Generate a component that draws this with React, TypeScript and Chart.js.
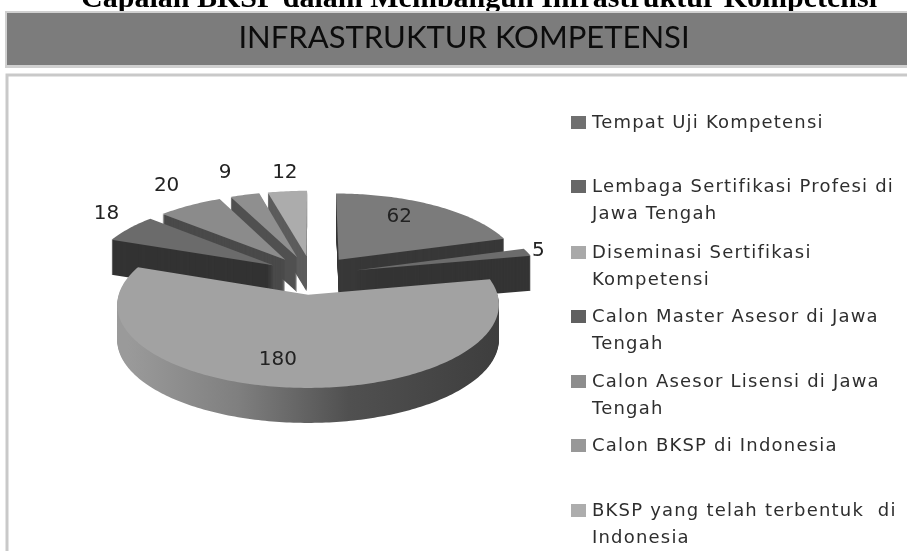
import React, { useEffect, useRef } from "react";
import { Chart, registerables } from "chart.js";

Chart.register(...registerables);

const pageTitle = "Capaian BKSP dalam Membangun Infrastruktur Kompetensi";
const bannerTitle = "INFRASTRUKTUR KOMPETENSI";
const legendLines = [
  ["Tempat Uji Kompetensi"],
  ["Lembaga Sertifikasi Profesi di", "Jawa Tengah"],
  ["Diseminasi Sertifikasi", "Kompetensi"],
  ["Calon Master Asesor di Jawa", "Tengah"],
  ["Calon Asesor Lisensi di Jawa", "Tengah"],
  ["Calon BKSP di Indonesia"],
  ["BKSP yang telah terbentuk  di", "Indonesia"],
];
const categories = legendLines.map((l) => l.join(" "));
const values = [62, 5, 180, 18, 20, 9, 12];
const topColors = ["#7b7b7b", "#6c6c6c", "#a2a2a2", "#6b6b6b", "#8b8b8b", "#8f8f8f", "#acacac"];
const wallColors = ["#383838", "#343434", "#555555", "#333333", "#4a4a4a", "#505050", "#5c5c5c"];
const swatchColors = ["#707070", "#676767", "#a9a9a9", "#606060", "#8d8d8d", "#989898", "#adadad"];
const legendRowY = [123, 187, 253, 317, 382, 446, 511];
const labelAlong = [0.44, 0.5, 0.523, 0.69, 0.587, 0.48, 0.55];
const labelDistance = [180, 242, 182, 277, 297, 306, 290];

const EXPLODE = 46;
const TILT = 0.42;
const PERSPECTIVE = 0.12;
const DEPTH = 35;
const RADIUS = 184;

function project(cx: number, cy: number, angle: number, rho: number, ox: number, oy: number) {
  const X = ox + rho * Math.cos(angle);
  const Y = oy + rho * Math.sin(angle);
  const f = 1 / (1 - (PERSPECTIVE * Y) / 190);
  return { x: cx + X * f, y: cy + TILT * Y * f };
}

function tracePath(ctx: CanvasRenderingContext2D, arc: any, dy: number) {
  const { x, y, startAngle, endAngle, outerRadius } = arc;
  const mid = (startAngle + endAngle) / 2;
  const ox = EXPLODE * Math.cos(mid);
  const oy = EXPLODE * Math.sin(mid);
  ctx.beginPath();
  const a = project(x, y, 0, 0, ox, oy);
  ctx.moveTo(a.x, a.y + dy);
  const steps = Math.max(4, Math.ceil((endAngle - startAngle) * 60));
  for (let i = 0; i <= steps; i++) {
    const p = project(x, y, startAngle + ((endAngle - startAngle) * i) / steps, outerRadius, ox, oy);
    ctx.lineTo(p.x, p.y + dy);
  }
  ctx.closePath();
}

const pie3d = {
  id: "pie3d",
  beforeDraw(chart: any) {
    const ctx: CanvasRenderingContext2D = chart.ctx;
    ctx.save();
    ctx.fillStyle = "#ffffff";
    ctx.fillRect(0, 0, chart.width, chart.height);
    ctx.fillStyle = "#000000";
    ctx.font = "bold 30px 'Liberation Serif'";
    ctx.textAlign = "center";
    ctx.textBaseline = "alphabetic";
    ctx.fillText(pageTitle, 479, 7);
    ctx.fillStyle = "#d0d0d0";
    ctx.fillRect(5, 11, 902, 57);
    ctx.fillStyle = "#7c7c7c";
    ctx.fillRect(7, 13, 900, 52);
    ctx.fillStyle = "#0c0c0c";
    ctx.font = "31px Lato";
    ctx.textBaseline = "middle";
    ctx.fillText(bannerTitle, 464, 38);
    ctx.strokeStyle = "#c9c9c9";
    ctx.lineWidth = 3;
    ctx.strokeRect(7, 75, 910, 500);
    ctx.textAlign = "left";
    ctx.font = "18px 'DejaVu Sans'";
    (ctx as any).letterSpacing = "1.2px";
    legendLines.forEach((lines, i) => {
      ctx.fillStyle = swatchColors[i];
      ctx.fillRect(571, legendRowY[i] - 7, 15, 13);
      ctx.fillStyle = "#2e2e2e";
      lines.forEach((line, j) => ctx.fillText(line, 592, legendRowY[i] + j * 27));
    });
    (ctx as any).letterSpacing = "0px";
    ctx.restore();
  },
  beforeDatasetDraw(chart: any) {
    const ctx: CanvasRenderingContext2D = chart.ctx;
    const arcs = chart.getDatasetMeta(0).data as any[];
    const order = arcs
      .map((_, i) => i)
      .sort((a, b) => {
        const ma = (arcs[a].startAngle + arcs[a].endAngle) / 2;
        const mb = (arcs[b].startAngle + arcs[b].endAngle) / 2;
        return Math.sin(ma) - Math.sin(mb);
      });
    ctx.save();
    order.forEach((i) => {
      const arc = arcs[i];
      let wall: any = wallColors[i];
      if (values[i] === Math.max(...values)) {
        const g = ctx.createLinearGradient(arc.x - RADIUS, 0, arc.x + RADIUS, 0);
        g.addColorStop(0, "#9a9a9a");
        g.addColorStop(0.3, "#7f7f7f");
        g.addColorStop(0.6, "#505050");
        g.addColorStop(1, "#3e3e3e");
        wall = g;
      }
      ctx.fillStyle = wall;
      for (let t = DEPTH; t >= 1; t--) {
        tracePath(ctx, arc, t);
        ctx.fill();
      }
      ctx.fillStyle = topColors[i];
      tracePath(ctx, arc, 0);
      ctx.fill();
    });
    ctx.fillStyle = "#222222";
    ctx.font = "20px 'DejaVu Sans'";
    ctx.textAlign = "center";
    ctx.textBaseline = "middle";
    arcs.forEach((arc, i) => {
      const ang = arc.startAngle + (arc.endAngle - arc.startAngle) * labelAlong[i];
      const p = project(arc.x, arc.y, ang, labelDistance[i], 0, 0);
      ctx.fillText(String(values[i]), p.x, p.y);
    });
    ctx.restore();
    return false;
  },
};

export default function App() {
  const ref = useRef<HTMLCanvasElement>(null);
  useEffect(() => {
    const chart = new Chart(ref.current!, {
      type: "pie",
      data: {
        labels: categories,
        datasets: [{ data: values, backgroundColor: topColors, borderWidth: 0, radius: RADIUS } as any],
      },
      options: {
        animation: false,
        responsive: false,
        layout: { padding: { left: 0, top: 0, right: 283, bottom: 1 } },
        plugins: { legend: { display: false }, title: { display: false }, tooltip: { enabled: false } },
      },
      plugins: [pie3d as any],
    });
    return () => chart.destroy();
  }, []);
  return (
    <canvas
      ref={ref}
      width={907}
      height={551}
      style={{ position: "fixed", left: 0, top: 0, display: "block", filter: "blur(0.6px)" }}
    />
  );
}
